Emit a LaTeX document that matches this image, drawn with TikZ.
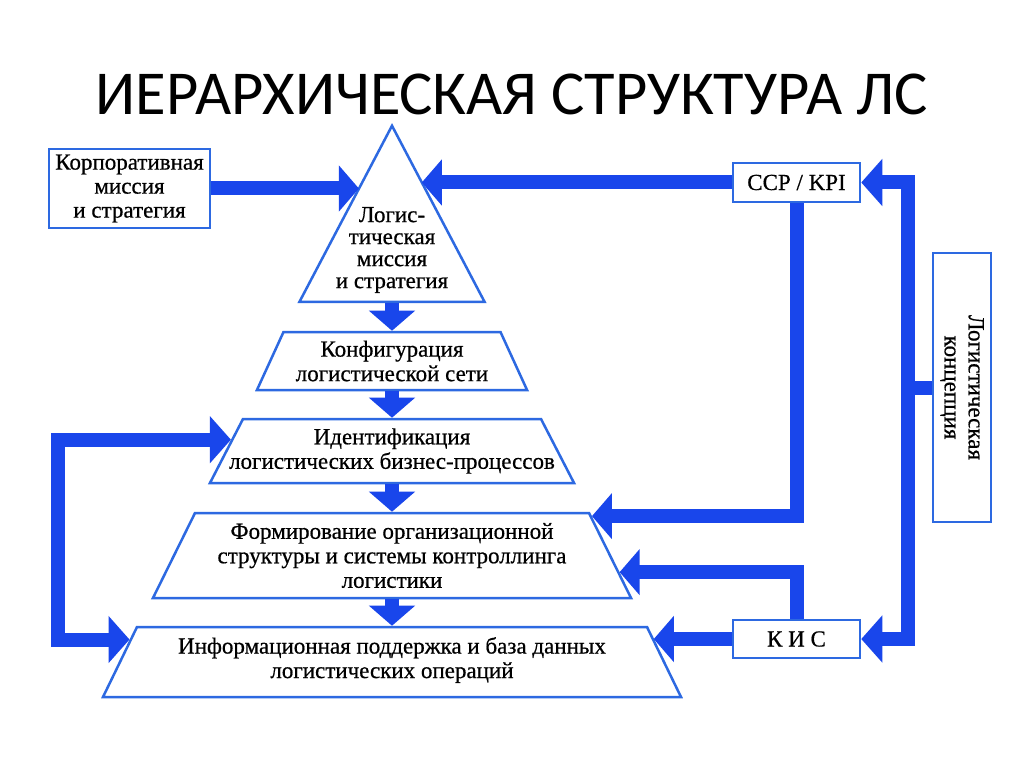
\documentclass[tikz,border=0pt]{standalone}
\usepackage{color}
\usepackage{fontspec}
\setmainfont{Liberation Serif}[FakeBold=0.6]
\newfontfamily\titlefont{Carlito}
\usepackage{tikz}
\usetikzlibrary{shapes.geometric, arrows.meta}
\usetikzlibrary{calc}
\definecolor{lsblue}{RGB}{25,70,235}
\definecolor{lsedge}{RGB}{45,105,225}
\tikzstyle{box} = [rectangle, draw=lsedge, line width=2.5pt, fill=white, align=center, font=\fontsize{23}{24}\selectfont, inner sep=2pt]
\tikzstyle{level} = [trapezium, draw=lsedge, line width=2.5pt, inner sep=0pt]
\tikzstyle{caption} = [align=center, font=\fontsize{23}{24.5}\selectfont, inner sep=0pt]
\tikzstyle{peak} = [isosceles triangle, isosceles triangle stretches, shape border rotate=90, minimum width=185pt, minimum height=176pt, draw=lsedge, line width=2.5pt, inner sep=0pt]
\tikzstyle{arrow} = [draw=lsblue, line width=14pt, -{Triangle[width=45pt,length=20pt]}]
\tikzstyle{twoway} = [draw=lsblue, line width=14pt, {Triangle[width=46pt,length=21pt]}-{Triangle[width=46pt,length=21pt]}]
\tikzstyle{link} = [draw=lsblue, line width=14pt]

\begin{document}
\begin{tikzpicture}[x=1pt, y=-1pt]
\path[fill=white] (0,0) rectangle (1024,767);
\node (title) [anchor=base, font=\titlefont\fontsize{62.5}{66}\selectfont] at (512,115) {ИЕРАРХИЧЕСКАЯ СТРУКТУРА ЛС};

% уровни пирамиды
\node (tri) [peak, anchor=lower side] at (392,303) {};
\node (mission) [caption, font=\fontsize{23}{22}\selectfont] at (392,250) {Логис-\\тическая\\миссия\\и стратегия};
\node (konf) [level, inner xsep=108.5pt, inner ysep=29pt, trapezium angle=65.4] at (392,361) {};
\node (ident) [level, inner xsep=149pt, inner ysep=32pt, trapezium angle=62.7] at (392,451) {};
\node (form) [level, inner xsep=197pt, inner ysep=42.5pt, trapezium angle=63.7] at (392,555.5) {};
\node (info) [level, inner xsep=255pt, inner ysep=35pt, trapezium angle=64.1] at (392,662) {};
\node (konftext) [caption] at (konf) {Конфигурация\\логистической сети};
\node (identtext) [caption] at (ident) {Идентификация\\логистических бизнес-процессов};
\node (formtext) [caption] at (form) {Формирование организационной\\структуры и системы контроллинга\\логистики};
\node (infotext) [caption] at ($(info)+(0,-2)$) {Информационная поддержка и база данных\\логистических операций};

% блоки по сторонам
\node (corp) [box, minimum width=161pt, minimum height=79pt] at (129.5,188.5) {Корпоративная\\миссия\\и стратегия};
\node (ccp) [box, minimum width=127pt, minimum height=39pt] at (796.5,182.5) {ССР / KPI};
\node (kis) [box, minimum width=127pt, minimum height=38pt] at (796.5,639) {К И С};
\node (concept) [box, rotate=-90, minimum width=269pt, minimum height=58pt] at (962,387.5) {Логистическая\\концепция};

% точки на сторонах фигур
\coordinate (tl) at ($(tri.apex)!0.35!(tri.left corner)$);
\coordinate (tr) at ($(tri.apex)!0.315!(tri.right corner)$);
\coordinate (fr1) at ($(form.top right corner)!0.05!(form.bottom right corner)$);
\coordinate (fr2) at ($(form.top right corner)!0.69!(form.bottom right corner)$);
\coordinate (ir) at ($(info.top right corner)!0.17!(info.bottom right corner)$);
\coordinate (il) at ($(ident.top left corner)!0.33!(ident.bottom left corner)$);
\coordinate (nl) at ($(info.top left corner)!0.19!(info.bottom left corner)$);
\coordinate (bus) at (908,400);
\coordinate (loop) at (58,540);

% связи
\draw [arrow] (tri.lower side -| konf.north) -- (konf.north);
\draw [arrow] (konf.south) -- (ident.north);
\draw [arrow] (ident.south) -- (form.north);
\draw [arrow] (form.south) -- (info.north);
\draw [arrow] (corp.east) -- (corp.east -| tl);
\draw [arrow] (ccp.west) -- (ccp.west -| tr);
\draw [arrow] (ccp.south) |- (fr1);
\draw [arrow] (kis.north) |- (fr2);
\draw [arrow] (kis.west) -- (kis.west -| ir);
\draw [twoway] (ccp.east) -| (bus) |- (kis.east);
\draw [link] (concept.south) -- (concept.south -| bus);
\draw [twoway] (il) -| (loop) |- (nl);
\end{tikzpicture}
\end{document}
